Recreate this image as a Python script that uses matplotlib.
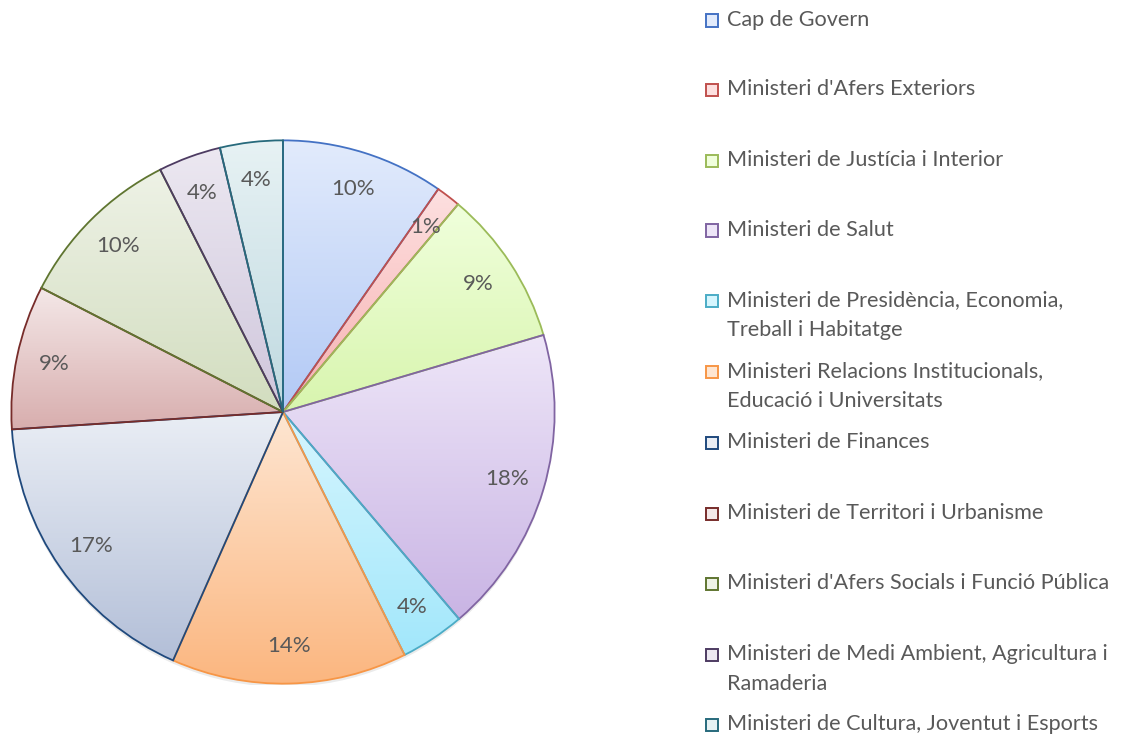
import numpy as np
import matplotlib
matplotlib.use("Agg")
import matplotlib.pyplot as plt
from matplotlib.colors import to_rgb

labels = [
    "Cap de Govern",
    "Ministeri d'Afers Exteriors",
    "Ministeri de Justícia i Interior",
    "Ministeri de Salut",
    "Ministeri de Presidència, Economia,\nTreball i Habitatge",
    "Ministeri Relacions Institucionals,\nEducació i Universitats",
    "Ministeri de Finances",
    "Ministeri de Territori i Urbanisme",
    "Ministeri d'Afers Socials i Funció Pública",
    "Ministeri de Medi Ambient, Agricultura i\nRamaderia",
    "Ministeri de Cultura, Joventut i Esports",
]
shares = [9.6, 1.45, 9.2, 18.2, 3.8, 13.9, 17.2, 8.5, 9.9, 3.7, 3.7]

edge_colors = ["#4472C4", "#C0504D", "#9BBB59", "#8064A2", "#4BACC6", "#F79646",
               "#1F497D", "#772C2A", "#5F7530", "#4D3B62", "#276A7C"]
top_colors = ["#e2ebfc", "#fde0e0", "#f0ffdc", "#eee6f8", "#d6f6fe", "#fee6d2",
              "#eaeef5", "#f4e8e8", "#eef2e6", "#ece8f1", "#e7f2f4"]
bot_colors = ["#b2c9f5", "#f7b0b0", "#d8f5ae", "#c9b4e4", "#a2e7fb", "#fbb67f",
              "#b3bfd8", "#d8aeae", "#d2ddbf", "#cfc6dc", "#bfd9e0"]

W, H = 1125, 740
fig = plt.figure(figsize=(W / 100, H / 100), dpi=100)
cx, cy, R = 283, 412, 273
ax = fig.add_axes([(cx - R) / W, (H - cy - R) / H, 2 * R / W, 2 * R / H])
ax.axis("off")

font = "Lato"
wedges, texts, autotexts = ax.pie(
    shares, startangle=90, counterclock=False, radius=1,
    autopct="%1.0f%%", pctdistance=0.86,
    wedgeprops=dict(linewidth=1.3, facecolor="none"),
    textprops=dict(fontsize=16, color="#595959", family=font),
)

for w, ec, tc, bc in zip(wedges, edge_colors, top_colors, bot_colors):
    w.set_edgecolor(ec)
    w.set_zorder(3)
    pts = w.get_patch_transform().transform(w.get_path().vertices)
    x0, x1 = pts[:, 0].min(), pts[:, 0].max()
    y0, y1 = pts[:, 1].min(), pts[:, 1].max()
    t = np.linspace(0, 1, 256)[:, None]
    c0, c1 = np.array(to_rgb(tc)), np.array(to_rgb(bc))
    img = (c0[None, :] * (1 - t) + c1[None, :] * t)[:, None, :]
    im = ax.imshow(img, extent=[x0, x1, y0, y1], origin="upper",
                   aspect="auto", zorder=2, interpolation="bilinear")
    im.set_clip_path(w)
for a in autotexts:
    a.set_zorder(5)

sh = plt.Circle((0.0, -0.012), 1.0, color="#000000", alpha=0.08, zorder=1, lw=0)
ax.add_patch(sh)
ax.set_xlim(-1.005, 1.005)
ax.set_ylim(-1.005, 1.005)

# legend
item_y = [20, 89, 160, 230, 300, 371, 442, 513, 583, 654, 724]
for lab, ec, tc, bc, yy in zip(labels, edge_colors, top_colors, bot_colors, item_y):
    fig.patches.append(plt.Rectangle((706 / W, (H - yy - 6.5) / H), 12 / W, 12 / H,
                                     transform=fig.transFigure, facecolor=tc,
                                     edgecolor=ec, linewidth=1.4))
    for i, line in enumerate(lab.split("\n")):
        fig.text(727 / W, (H - yy - 30 * i) / H, line, fontsize=15.6,
                 color="#595959", family=font, va="center", ha="left")

fig.savefig("out.png", dpi=100, facecolor="white")
